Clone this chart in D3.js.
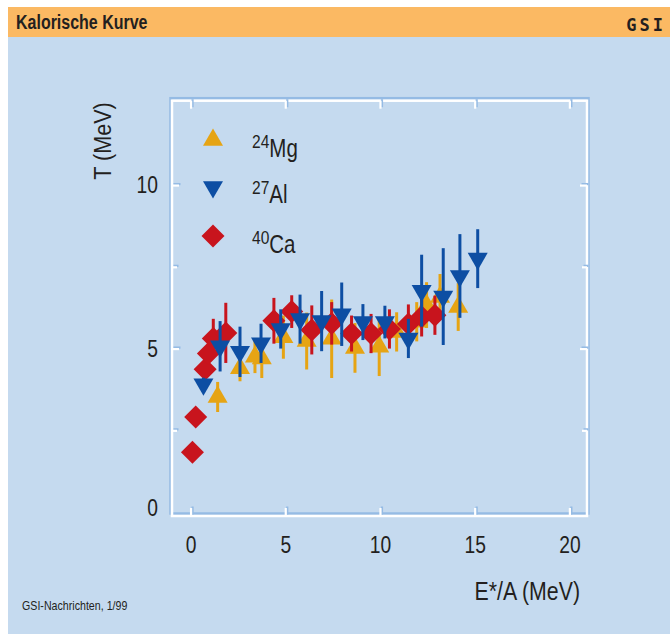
<!DOCTYPE html>
<html>
<head>
<meta charset="utf-8">
<script src="https://cdn.jsdelivr.net/npm/d3@7"></script>
<style>
  html, body { margin: 0; padding: 0; background: #fff; }
  svg { display: block; }
  text { font-family: "Liberation Sans", Arial, sans-serif; fill: #231f20; }
</style>
</head>
<body>
<svg id="chart" width="670" height="634"></svg>
<script>
// Caloric curve: temperature vs. excitation energy per nucleon
const xTicks = [0, 5, 10, 15, 20];
const yTicks = [0, 5, 10];
const yMinorTicks = [2.5, 7.5];

// 24Mg (up triangles)
const mgE = [1.43, 2.61, 3.40, 3.76, 4.90, 6.13, 7.45, 8.68, 9.96, 10.88, 11.94, 12.46, 13.17, 14.13];
const mgT = [3.52, 4.40, 4.75, 4.70, 5.35, 5.23, 5.30, 5.02, 5.06, 5.51, 5.82, 6.33, 6.58, 6.27];
const mgErr = [0.46, 0.40, 0.50, 0.60, 0.66, 0.87, 1.20, 0.76, 0.90, 0.60, 0.60, 0.70, 0.70, 0.73];

// 27Al (down triangles)
const alE = [0.68, 1.56, 2.61, 3.72, 4.76, 5.78, 6.92, 7.98, 9.10, 10.26, 11.50, 12.20, 13.34, 14.22, 15.16];
const alT = [3.91, 5.07, 4.90, 5.16, 5.60, 5.90, 5.84, 6.05, 5.81, 5.81, 5.31, 6.77, 6.59, 7.22, 7.75];
const alErr = [0.20, 0.77, 0.77, 0.60, 0.60, 0.75, 0.92, 0.97, 0.55, 0.50, 0.60, 1.10, 1.48, 1.28, 0.90];

// 40Ca (diamonds)
const caE = [0.10, 0.27, 0.77, 0.94, 1.20, 1.86, 4.40, 5.34, 6.40, 7.45, 8.50, 9.53, 10.50, 11.50, 12.20, 12.90];
const caT = [1.83, 2.91, 4.37, 4.85, 5.31, 5.48, 5.85, 6.13, 5.57, 5.77, 5.46, 5.46, 5.60, 5.75, 5.97, 6.02];
const caErr = [0.00, 0.00, 0.00, 0.30, 0.60, 0.92, 0.70, 0.50, 0.75, 0.65, 0.55, 0.60, 0.60, 0.60, 0.60, 0.60];

const seriesNames = ["24", "27", "40"];
const seriesElems = ["Mg", "Al", "Ca"];

const COL_MG = "#e6a414", COL_AL = "#0d4ea3", COL_CA = "#c8141d";
const BG = "#c5daef", HEADER = "#fbb963", SHADOW = "#95bbe4";
const NARROW = 0.82;   // horizontal squeeze giving a condensed face

const svg = d3.select("#chart");

// condensed text placed at (x, y)
function label(px, py, str, size, opts = {}) {
  const g = svg.append("g").attr("transform",
    `translate(${px},${py})` + (opts.rotate ? ` rotate(${opts.rotate})` : "") + ` scale(${opts.sx || NARROW},1)`);
  const t = g.append("text").style("font-size", size + "px")
    .attr("text-anchor", opts.anchor || "start");
  if (opts.bold) t.style("font-weight", "bold");
  if (str !== null) t.text(str);
  return t;
}

// page panels
svg.append("rect").attr("x", 8).attr("y", 7).attr("width", 662).attr("height", 30).attr("fill", HEADER);
svg.append("rect").attr("x", 8).attr("y", 37).attr("width", 662).attr("height", 597).attr("fill", BG);

label(16, 29, "Kalorische Kurve", 19.5, { bold: true });

// GSI mark
svg.append("text").attr("x", 666).attr("y", 31).attr("text-anchor", "end")
  .style("font-family", "'DejaVu Sans Mono', monospace").style("font-weight", "bold")
  .style("font-size", "17px").style("letter-spacing", "3px").text("GSI");

// plot frame geometry
const L = 172, R = 587, T = 100.7, B = 516;
const x = d3.scaleLinear().domain([-0.98, 20.93]).range([L, R]);
const y = d3.scaleLinear().domain([-0.12, 12.58]).range([B, T]);

// frame with a slightly offset blue print shadow
svg.append("rect").attr("x", L - 1.5).attr("y", T - 2.5).attr("width", R - L + 3).attr("height", B - T)
  .attr("fill", "none").attr("stroke", SHADOW).attr("stroke-width", 2.5);
svg.append("rect").attr("x", L).attr("y", T).attr("width", R - L).attr("height", B - T)
  .attr("fill", "none").attr("stroke", "#fff").attr("stroke-width", 2.5);

function tickLayer(offX, offY, color) {
  const g = svg.append("g").attr("transform", `translate(${offX},${offY})`);
  const styleAxis = sel => {
    sel.select(".domain").remove();
    sel.selectAll(".tick line").attr("stroke", color).attr("stroke-width", 2.2);
    sel.selectAll(".tick text").remove();
  };
  g.append("g").attr("transform", `translate(0,${B})`)
    .call(d3.axisBottom(x).tickValues(xTicks).tickSizeInner(-8).tickSizeOuter(0)).call(styleAxis);
  g.append("g").attr("transform", `translate(0,${T})`)
    .call(d3.axisTop(x).tickValues(xTicks).tickSizeInner(-8).tickSizeOuter(0)).call(styleAxis);
  g.append("g").attr("transform", `translate(${L},0)`)
    .call(d3.axisLeft(y).tickValues(yTicks.filter(v => v > 0)).tickSizeInner(-7).tickSizeOuter(0)).call(styleAxis);
  g.append("g").attr("transform", `translate(${L},0)`)
    .call(d3.axisLeft(y).tickValues(yMinorTicks).tickSizeInner(-5).tickSizeOuter(0)).call(styleAxis);
  g.append("g").attr("transform", `translate(${R},0)`)
    .call(d3.axisRight(y).tickValues(yTicks.filter(v => v > 0)).tickSizeInner(-7).tickSizeOuter(0)).call(styleAxis);
  g.append("g").attr("transform", `translate(${R},0)`)
    .call(d3.axisRight(y).tickValues(yMinorTicks).tickSizeInner(-5).tickSizeOuter(0)).call(styleAxis);
}
tickLayer(1.5, -1.5, SHADOW);
tickLayer(0, 0, "#fff");

// tick labels, squeezed about each tick's anchor point
const labelAxis = sel => {
  sel.select(".domain").remove();
  sel.selectAll(".tick line").remove();
  sel.selectAll(".tick text").style("font-size", "23.5px").attr("fill", "#231f20")
    .attr("transform", `scale(${NARROW},1)`);
};
svg.append("g").attr("transform", `translate(0,${B})`)
  .call(d3.axisBottom(x).tickValues(xTicks).tickSize(0).tickPadding(20).tickFormat(d3.format("d")))
  .call(labelAxis);
svg.append("g").attr("transform", `translate(${L - 14},0)`)
  .call(d3.axisLeft(y).tickValues(yTicks).tickSize(0).tickPadding(0).tickFormat(d3.format("d")))
  .call(labelAxis)
  .call(sel => sel.selectAll(".tick").filter(d => d === 0).select("text").attr("dy", "0.15em"));

// axis titles
label(111, 141, "T (MeV)", 24, { rotate: -90, anchor: "middle", sx: 0.9 });
label(580, 600, "E*/A (MeV)", 26, { anchor: "end" });

label(22, 610, "GSI-Nachrichten, 1/99", 13);

// marker shapes
const triUp = "M0,-11.5L10,5.8L-10,5.8Z";
const triDown = "M0,11.5L10,-5.8L-10,-5.8Z";
const diamond = "M0,-11.5L11.5,0L0,11.5L-11.5,0Z";

function drawSeries(es, ts, errs, color, shape) {
  const g = svg.append("g");
  const pts = es.map((e, i) => ({ e, t: ts[i], err: errs[i] }));
  g.selectAll("line").data(pts.filter(d => d.err > 0)).join("line")
    .attr("x1", d => x(d.e)).attr("x2", d => x(d.e))
    .attr("y1", d => y(d.t - d.err)).attr("y2", d => y(d.t + d.err))
    .attr("stroke", color).attr("stroke-width", 3);
  g.selectAll("path").data(pts).join("path")
    .attr("d", shape).attr("fill", color)
    .attr("transform", d => `translate(${x(d.e)},${y(d.t)})`);
}
drawSeries(mgE, mgT, mgErr, COL_MG, triUp);
drawSeries(caE, caT, caErr, COL_CA, diamond);
drawSeries(alE, alT, alErr, COL_AL, triDown);

// legend
const legend = [
  { shape: triUp, color: COL_MG, cy: 140, base: 157 },
  { shape: triDown, color: COL_AL, cy: 187, base: 203 },
  { shape: diamond, color: COL_CA, cy: 236, base: 253 }
];
legend.forEach((d, i) => {
  svg.append("path").attr("d", d.shape).attr("fill", d.color)
    .attr("transform", `translate(213,${d.cy})`);
  const t = label(252, d.base, null, 25);
  t.append("tspan").attr("dy", -9).style("font-size", "19px").text(seriesNames[i]);
  t.append("tspan").attr("dy", 9).text(seriesElems[i]);
});
</script>
</body>
</html>
